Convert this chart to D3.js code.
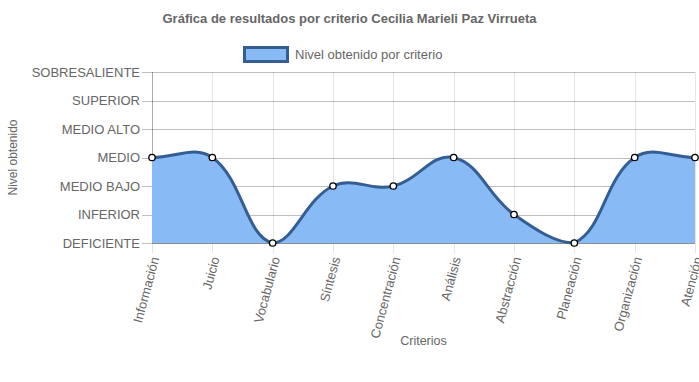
<!DOCTYPE html>
<html>
<head>
<meta charset="utf-8">
<script src="https://cdn.jsdelivr.net/npm/d3@7"></script>
<style>
html,body{margin:0;padding:0;background:#fff;}
svg{display:block;font-family:"Liberation Sans",Arial,Helvetica,sans-serif;}
</style>
</head>
<body>
<svg id="chart" width="699" height="382"></svg>
<script>
const titleText = "Gráfica de resultados por criterio Cecilia Marieli Paz Virrueta";
const seriesName = "Nivel obtenido por criterio";
const categories = ["Información","Juicio","Vocabulario","Síntesis","Concentración","Análisis","Abstracción","Planeación","Organización","Atención"];
const levels = ["DEFICIENTE","INFERIOR","MEDIO BAJO","MEDIO","MEDIO ALTO","SUPERIOR","SOBRESALIENTE"];
const values = [3,3,0,2,2,3,1,0,3,3];
const yTitle = "Nivel obtenido";
const xTitle = "Criterios";

(function(){
const W = 699, H = 382;
const pL = 152, pR = 695, pT = 72, pB = 243;
const svg = d3.select("#chart");

const x = d3.scalePoint().domain(categories).range([pL, pR]);
const y = d3.scaleLinear().domain([0, levels.length - 1]).range([pB, pT]);

const lineColor = "rgb(52,94,146)";
const fillColor = "rgb(136,186,246)";
const textColor = "#666";

// vertical grid
svg.append("g").selectAll("line").data(categories).join("line")
  .attr("x1", d => Math.round(x(d)) + 0.5).attr("x2", d => Math.round(x(d)) + 0.5)
  .attr("y1", pT).attr("y2", pB + 10)
  .attr("stroke", "rgba(0,0,0,0.1)").attr("stroke-width", 1);

// horizontal grid
svg.append("g").selectAll("line").data(d3.range(levels.length)).join("line")
  .attr("x1", pL - 10).attr("x2", pR)
  .attr("y1", d => Math.round(y(d)) + 0.5).attr("y2", d => Math.round(y(d)) + 0.5)
  .attr("stroke", "rgba(0,0,0,0.25)").attr("stroke-width", 1);

// y axis line
svg.append("line").attr("x1", pL + 0.5).attr("x2", pL + 0.5)
  .attr("y1", pT).attr("y2", pB)
  .attr("stroke", "rgba(0,0,0,0.25)");

// Chart.js-like spline
const pts = values.map((v, i) => ({x: x(categories[i]), y: y(v)}));
const t = 0.4;
const cx = v => Math.max(pL, Math.min(pR, v));
const cy = v => Math.max(pT, Math.min(pB, v));
pts.forEach((p, i) => {
  const prev = i > 0 ? pts[i-1] : p;
  const next = i < pts.length - 1 ? pts[i+1] : p;
  const d01 = Math.hypot(p.x - prev.x, p.y - prev.y);
  const d12 = Math.hypot(next.x - p.x, next.y - p.y);
  let s01 = d01 / (d01 + d12), s12 = d12 / (d01 + d12);
  if (isNaN(s01)) s01 = 0; if (isNaN(s12)) s12 = 0;
  const fa = t * s01, fb = t * s12;
  p.cpx = cx(p.x - fa * (next.x - prev.x)); p.cpy = cy(p.y - fa * (next.y - prev.y));
  p.cnx = cx(p.x + fb * (next.x - prev.x)); p.cny = cy(p.y + fb * (next.y - prev.y));
});
function curvePath(ctx) {
  ctx.moveTo(pts[0].x, pts[0].y);
  for (let i = 1; i < pts.length; i++) {
    const a = pts[i-1], b = pts[i];
    ctx.bezierCurveTo(a.cnx, a.cny, b.cpx, b.cpy, b.x, b.y);
  }
  return ctx;
}
const areaP = curvePath(d3.path());
areaP.lineTo(pts[pts.length-1].x, y(0));
areaP.lineTo(pts[0].x, y(0));
areaP.closePath();
svg.append("path").attr("d", areaP.toString()).attr("fill", fillColor);

// x axis line (bottom)
svg.append("line").attr("x1", pL).attr("x2", pR)
  .attr("y1", Math.round(y(0)) + 0.5).attr("y2", Math.round(y(0)) + 0.5)
  .attr("stroke", "rgba(0,0,0,0.25)");

svg.append("path").attr("d", curvePath(d3.path()).toString())
  .attr("fill", "none").attr("stroke", lineColor).attr("stroke-width", 3);

svg.append("g").selectAll("circle").data(pts).join("circle")
  .attr("cx", d => d.x).attr("cy", d => d.y).attr("r", 3.2)
  .attr("fill", "#fff").attr("stroke", "#000").attr("stroke-width", 1.3);

// y labels
svg.append("g").selectAll("text").data(levels).join("text")
  .attr("x", pL - 12).attr("y", (d, i) => y(i))
  .attr("text-anchor", "end").attr("dominant-baseline", "central")
  .attr("font-size", 13).attr("fill", textColor).text(d => d);

// x labels
svg.append("g").selectAll("text").data(categories).join("text")
  .attr("transform", d => `translate(${x(d) + 3},${pB + 14}) rotate(-75)`)
  .attr("text-anchor", "end").attr("dominant-baseline", "central")
  .attr("font-size", 13).attr("fill", textColor).text(d => d);

// titles
svg.append("text").attr("x", W / 2).attr("y", 18)
  .attr("text-anchor", "middle").attr("dominant-baseline", "central")
  .attr("font-size", 13).attr("font-weight", "bold").attr("fill", textColor).text(titleText);

svg.append("text").attr("transform", `translate(13,${(pT + pB) / 2}) rotate(-90)`)
  .attr("text-anchor", "middle").attr("dominant-baseline", "central")
  .attr("font-size", 12).attr("fill", textColor).text(yTitle);

svg.append("text").attr("x", (pL + pR) / 2).attr("y", 341)
  .attr("text-anchor", "middle").attr("dominant-baseline", "central")
  .attr("font-size", 12.5).attr("fill", textColor).text(xTitle);

// legend
svg.append("rect").attr("x", 244.5).attr("y", 47.5).attr("width", 43).attr("height", 14)
  .attr("fill", fillColor).attr("stroke", lineColor).attr("stroke-width", 3);
svg.append("text").attr("x", 295).attr("y", 54.5)
  .attr("dominant-baseline", "central").attr("font-size", 13).attr("fill", textColor).text(seriesName);
})();
</script>
</body>
</html>
